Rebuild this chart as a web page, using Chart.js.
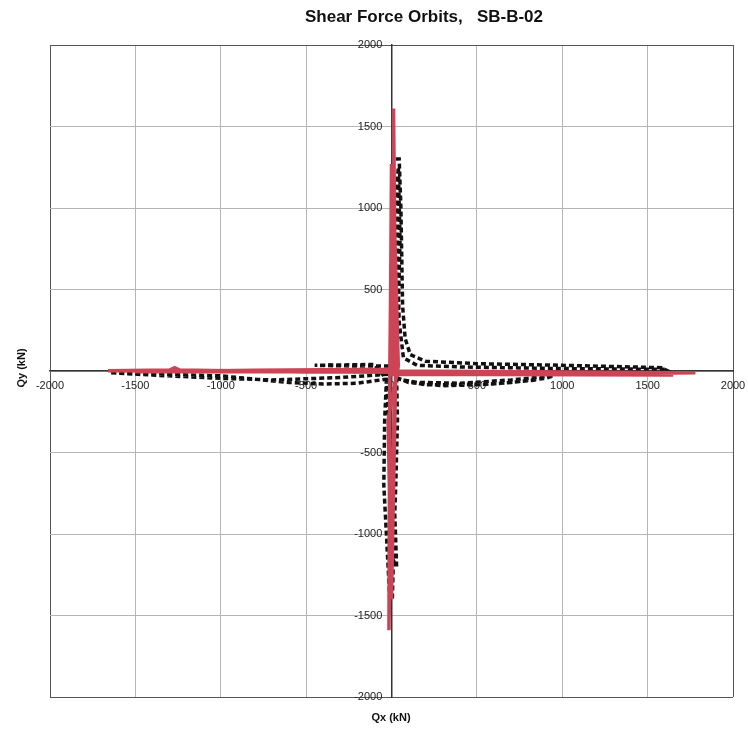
<!DOCTYPE html>
<html>
<head>
<meta charset="utf-8">
<title>Shear Force Orbits, SB-B-02</title>
<script src="https://cdn.jsdelivr.net/npm/chart.js@4.4.1/dist/chart.umd.min.js"></script>
<style>
  html, body { margin: 0; padding: 0; background: #fff; }
  #wrap { position: relative; width: 748px; height: 733px; }
</style>
</head>
<body>
<div id="wrap"><canvas id="chart"></canvas></div>
<script>
/**
 * Shear force orbits, SB-B-02
 *  - red: main orbit (cross shape)
 *  - black dashed: second orbit branches
 */
const axisTicks = [-2000, -1500, -1000, -500, 0, 500, 1000, 1500, 2000];

// red orbit
const redQx = [0, 1780, 1200, 0, 1650, 900, 0, -1660, -1300, -1270, -1240, -500, 0, -1500, -800, 10,
    12, 20, 30, 0, -5, -10, -15, -5, 25, 0, -20, 40, 15, 5];
const redQy = [0, -10, -18, -20, -25, -15, -8, 2, 6, 20, 6, -6, -4, -4, 4, 10,
    1610, 700, 0, 1270, 500, 0, -1590, -900, 0, -1400, -300, 30, 1000, 0];

// black orbit, upper spike and right tail
const upQx = [25, 45, 55, 60, 65, 80, 110, 200, 500, 1000, 1400, 1580, 1600, 1000, 400, 150, 70, 45, 35, 30, 40, 50, 35];
const upQy = [1300, 1300, 1000, 700, 400, 200, 100, 60, 45, 35, 25, 20, 10, 15, 25, 35, 80, 300, 700, 1100, 1250, 800, 200];

// black orbit, lower right branch
const lowRightQx = [30, 100, 300, 500, 700, 900, 950, 700, 400, 150, 40, 200, 600, 850];
const lowRightQy = [-40, -70, -90, -85, -70, -45, -30, -55, -75, -70, -50, -85, -80, -55];

// black orbit, left branch
const leftQx = [-20, -300, -700, -1000, -1400, -1650, -1500, -1000, -600, -400, -200, -30, -100, -450, -200, 0];
const leftQy = [-20, -40, -55, -45, -25, -10, -15, -30, -70, -80, -75, -50, 40, 35, 30, 30];

// black orbit, lower spike
const downQx = [30, 35, 25, 15, 5, -10, -30, -45, -40, -30, 20, 30, -20];
const downQy = [-40, -300, -700, -1000, -1400, -1400, -1000, -700, -300, -60, -900, -1200, -1100];

function pts(xs, ys) {
    return xs.map((x, i) => ({ x: x, y: ys[i] }));
}

const blackLine = {
    borderColor: "#111111",
    borderWidth: 3.5,
    borderDash: [5, 3],
    showLine: true,
    pointRadius: 0,
    tension: 0,
    order: 1
};

const data = {
    datasets: [
        { label: "Orbit 1", data: pts(redQx, redQy), borderColor: "#cc4455", borderWidth: 3.5,
          showLine: true, pointRadius: 0, order: 0 },
        Object.assign({ label: "Orbit 2a", data: pts(upQx, upQy) }, blackLine),
        Object.assign({ label: "Orbit 2b", data: pts(lowRightQx, lowRightQy) }, blackLine),
        Object.assign({ label: "Orbit 2c", data: pts(leftQx, leftQy) }, blackLine),
        Object.assign({ label: "Orbit 2d", data: pts(downQx, downQy) }, blackLine)
    ]
};

const FONT = "'Liberation Sans', Arial, sans-serif";

function gridColor(ctx) {
    const v = ctx.tick ? ctx.tick.value : null;
    return (v === -2000 || v === 2000) ? "#555555" : "#b5b5b5";
}

// title and axis titles drawn on the canvas
const labelsPlugin = {
    id: "labels",
    afterDraw(chart) {
        const c = chart.ctx;
        c.save();
        c.fillStyle = "#111";
        c.textAlign = "center";
        c.textBaseline = "middle";
        c.font = "bold 17px " + FONT;
        c.fillText("Shear Force Orbits,   SB-B-02", 424, 17);
        c.font = "bold 11px " + FONT;
        c.fillText("Qx (kN)", 391, 718);
        c.translate(22, 368);
        c.rotate(-Math.PI / 2);
        c.fillText("Qy (kN)", 0, 0);
        c.restore();
    }
};

const options = {
    maintainAspectRatio: false,
    responsive: true,
    animation: false,
    layout: { padding: { top: 45, left: 50, right: 15, bottom: 36 } },
    plugins: {
        legend: { display: false },
        title: { display: false },
        tooltip: { enabled: false }
    },
    scales: {
        x: {
            type: "linear",
            position: { y: 0 },
            min: -2000,
            max: 2000,
            afterBuildTicks: axis => { axis.ticks = axisTicks.map(v => ({ value: v })); },
            // let the end labels hang past the plot edge
            afterFit: axis => { axis.paddingLeft = 0; axis.paddingRight = 0; },
            grid: { color: gridColor, drawTicks: false, lineWidth: 1 },
            border: { color: "#333", width: 1.5 },
            ticks: {
                color: "#222", padding: 8, font: { family: FONT, size: 11 }, maxRotation: 0,
                callback: function (value) {
                    return String(value);
                }
            }
        },
        y: {
            type: "linear",
            position: { x: 0 },
            min: -2000,
            max: 2000,
            afterBuildTicks: axis => { axis.ticks = axisTicks.map(v => ({ value: v })); },
            afterFit: axis => { axis.paddingTop = 0; axis.paddingBottom = 0; },
            grid: { color: gridColor, drawTicks: false, lineWidth: 1 },
            border: { color: "#333", width: 1.5 },
            ticks: {
                color: "#222",
                font: { family: FONT, size: 11 },
                callback: function (value) {
                    return value === 0 ? "" : value + "   ";
                }
            }
        }
    }
};

new Chart("chart", {
    type: "scatter",
    data: data,
    options: options,
    plugins: [labelsPlugin]
});
</script>
</body>
</html>
